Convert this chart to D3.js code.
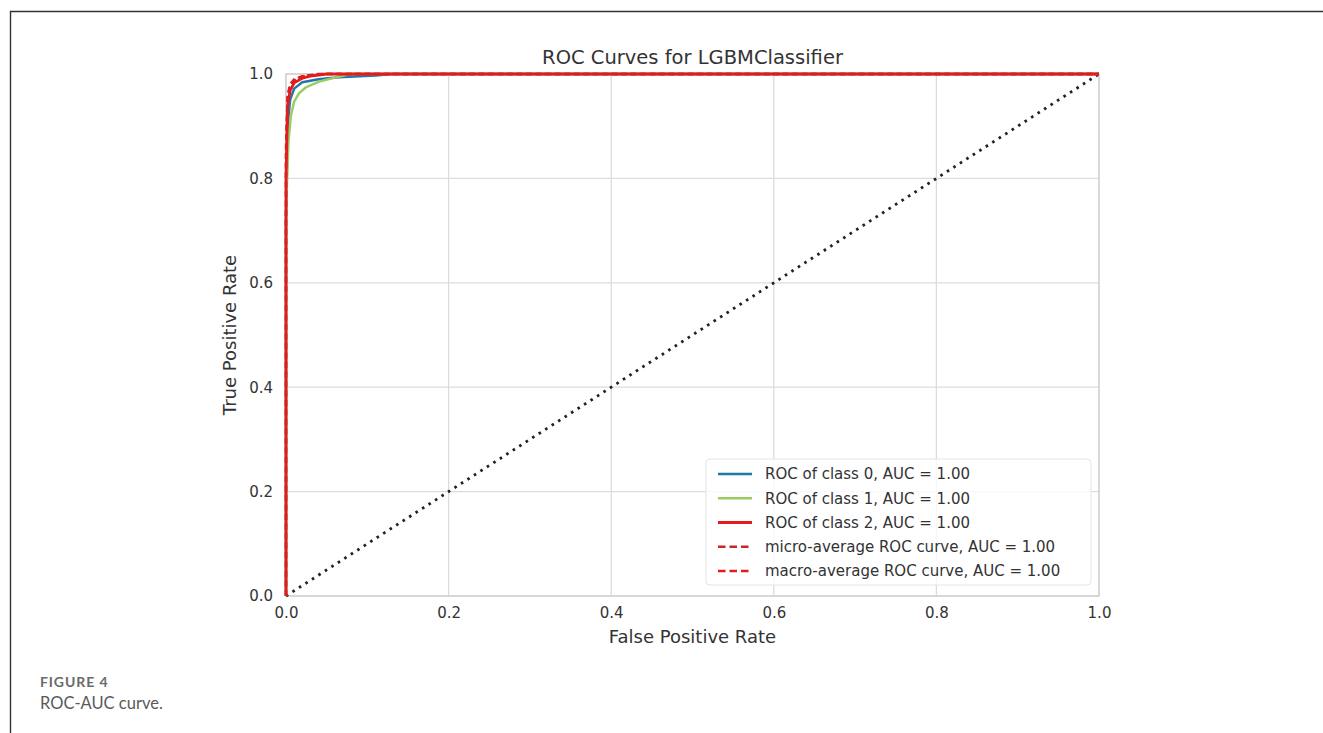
<!DOCTYPE html>
<html>
<head>
<meta charset="utf-8">
<script src="https://cdn.jsdelivr.net/npm/d3@7"></script>
<style>
  html, body { margin: 0; padding: 0; background: #fff; }
  svg { display: block; }
</style>
</head>
<body>
<svg id="chart" width="1323" height="733"></svg>
<script>
// ROC curve points [false positive rate, true positive rate]
const rocClass0 = [[0,0],[0,0.72],[0.002,0.9],[0.005,0.95],[0.01,0.972],[0.02,0.984],[0.04,0.99],[0.065,0.994],[0.11,0.997],[0.13,1],[1,1]];
const rocClass1 = [[0,0],[0,0.74],[0.003,0.87],[0.006,0.92],[0.01,0.947],[0.016,0.963],[0.025,0.975],[0.04,0.985],[0.06,0.993],[0.08,1],[1,1]];
const rocClass2 = [[0,0],[0,0.8],[0.002,0.94],[0.005,0.968],[0.01,0.983],[0.02,0.992],[0.03,0.996],[0.05,1],[1,1]];
const rocMicro  = [[0,0],[0,0.86],[0.002,0.96],[0.005,0.98],[0.01,0.99],[0.02,0.996],[0.04,1],[1,1]];
const rocMacro  = [[0,0],[0,0.84],[0.002,0.955],[0.005,0.975],[0.01,0.987],[0.02,0.995],[0.045,1],[1,1]];
const chanceLine = [[0,0],[1,1]];

const seriesNames = [
  "ROC of class 0, AUC = 1.00",
  "ROC of class 1, AUC = 1.00",
  "ROC of class 2, AUC = 1.00",
  "micro-average ROC curve, AUC = 1.00",
  "macro-average ROC curve, AUC = 1.00"
];
const tickValues = [0, 0.2, 0.4, 0.6, 0.8, 1.0];

const svg = d3.select("#chart");
const margin = { left: 286, right: 1099, top: 74, bottom: 596 };
const x = d3.scaleLinear().domain([0, 1]).range([margin.left, margin.right]);
const y = d3.scaleLinear().domain([0, 1]).range([margin.bottom, margin.top]);

const tickColor = "#333";
const font = "DejaVu Sans";

// page frame
svg.append("path")
  .attr("d", "M10.5,733 V11.5 H1323")
  .attr("fill", "none").attr("stroke", "#333").attr("stroke-width", 1.4);

// grid
const grid = svg.append("g");
grid.selectAll(".gx").data(tickValues).join("line")
  .attr("x1", d => x(d)).attr("x2", d => x(d))
  .attr("y1", y(0)).attr("y2", y(1))
  .attr("stroke", "#dcdcdc").attr("stroke-width", 1.3);
grid.selectAll(".gy").data(tickValues).join("line")
  .attr("y1", d => y(d)).attr("y2", d => y(d))
  .attr("x1", x(0)).attr("x2", x(1))
  .attr("stroke", "#dcdcdc").attr("stroke-width", 1.3);

// axes frame
svg.append("rect")
  .attr("x", x(0)).attr("y", y(1))
  .attr("width", x(1) - x(0)).attr("height", y(0) - y(1))
  .attr("fill", "none").attr("stroke", "#cfcfcf").attr("stroke-width", 1.3);

// axes (ticks hidden, labels only)
const xAxis = d3.axisBottom(x).tickValues(tickValues).tickFormat(d3.format(".1f")).tickSize(0).tickPadding(11);
const yAxis = d3.axisLeft(y).tickValues(tickValues).tickFormat(d3.format(".1f")).tickSize(0).tickPadding(13);

const gx = svg.append("g").attr("transform", `translate(0,${y(0)})`).call(xAxis);
const gy = svg.append("g").attr("transform", `translate(${x(0)},0)`).call(yAxis);
[gx, gy].forEach(g => {
  g.attr("font-family", font).attr("font-size", 15);
  g.select(".domain").remove();
  g.selectAll("text").attr("fill", tickColor);
});

// chance diagonal
const line = d3.line().x(d => x(d[0])).y(d => y(d[1]));
svg.append("path").datum(chanceLine)
  .attr("d", line).attr("fill", "none")
  .attr("stroke", "#222").attr("stroke-width", 2.8)
  .attr("stroke-dasharray", "2.6 5.1");

// ROC curves
const curves = [
  { data: rocClass0, color: "#1f78a8", width: 2.5, dash: null },
  { data: rocClass1, color: "#9ccc65", width: 2.5, dash: null },
  { data: rocClass2, color: "#e41a1c", width: 2.8, dash: null },
  { data: rocMicro,  color: "#c62828", width: 2.4, dash: "6 3.5" },
  { data: rocMacro,  color: "#e41a1c", width: 2.4, dash: "6 3.5" }
];
curves.forEach(c => {
  svg.append("path").datum(c.data)
    .attr("d", line).attr("fill", "none")
    .attr("stroke", c.color).attr("stroke-width", c.width)
    .attr("stroke-dasharray", c.dash)
    .attr("stroke-linejoin", "round");
});

// legend
const lg = svg.append("g");
lg.append("rect")
  .attr("x", 706).attr("y", 459).attr("width", 385).attr("height", 126)
  .attr("rx", 4).attr("fill", "#fff").attr("fill-opacity", 0.8)
  .attr("stroke", "#e4e4e4").attr("stroke-width", 1);
const ly = d3.scaleLinear().domain([0, 4]).range([474, 571]);
seriesNames.forEach((name, i) => {
  const c = curves[i];
  lg.append("line")
    .attr("x1", 718).attr("x2", 752).attr("y1", ly(i)).attr("y2", ly(i))
    .attr("stroke", c.color).attr("stroke-width", c.width)
    .attr("stroke-dasharray", c.dash ? "7.5 4" : null);
  lg.append("text")
    .attr("x", 765).attr("y", ly(i)).attr("dy", "0.35em")
    .attr("fill", tickColor).attr("font-family", font).attr("font-size", 15)
    .text(name);
});

// title and axis labels
svg.append("text")
  .attr("x", (x(0) + x(1)) / 2).attr("y", 64)
  .attr("text-anchor", "middle").attr("fill", tickColor)
  .attr("font-family", font).attr("font-size", 19.5)
  .text("ROC Curves for LGBMClassifier");
svg.append("text")
  .attr("x", (x(0) + x(1)) / 2).attr("y", 643)
  .attr("text-anchor", "middle").attr("fill", tickColor)
  .attr("font-family", font).attr("font-size", 18)
  .text("False Positive Rate");
svg.append("text")
  .attr("transform", `translate(236,${(y(0) + y(1)) / 2}) rotate(-90)`)
  .attr("text-anchor", "middle").attr("fill", tickColor)
  .attr("font-family", font).attr("font-size", 18)
  .text("True Positive Rate");

// caption
svg.append("text")
  .attr("x", 40).attr("y", 687)
  .attr("fill", "#6a6a6a").attr("font-family", "Lato, sans-serif")
  .attr("font-size", 14).attr("font-weight", "bold").attr("letter-spacing", 0.9)
  .text("FIGURE 4");
svg.append("text")
  .attr("x", 40).attr("y", 709)
  .attr("fill", "#5a5a5a").attr("font-family", "Lato, sans-serif")
  .attr("font-size", 16.5)
  .text("ROC-AUC curve.");
</script>
</body>
</html>
